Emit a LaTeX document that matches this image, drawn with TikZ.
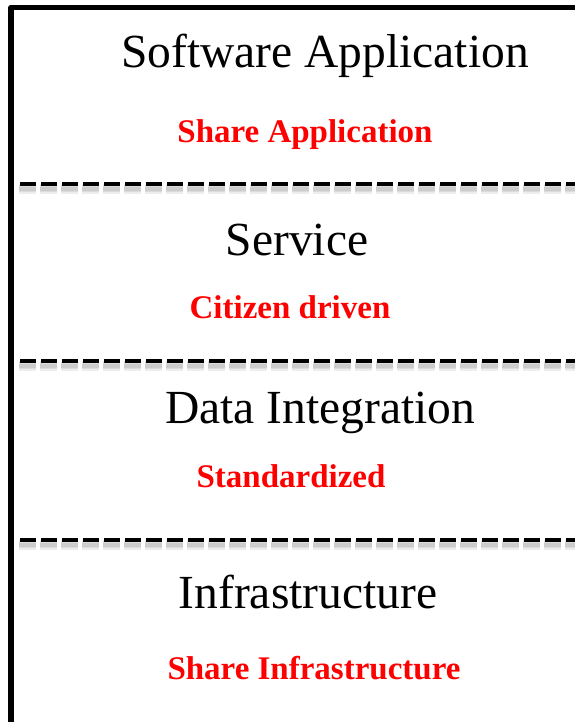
\documentclass[tikz,border=0pt]{standalone}
\usepackage{fontspec}
\setmainfont{Liberation Serif}
\begin{document}
\begin{tikzpicture}[x=1pt,y=-1pt,
  layer/.style={anchor=base,inner sep=0pt,text=black,font=\fontsize{47.5}{50}\selectfont},
  note/.style={anchor=base,inner sep=0pt,text=red,font=\fontsize{33}{36}\selectfont\bfseries},
  divider/.style={line width=4.5pt,dash pattern=on 15.5pt off 5.5pt},
  dividershadow/.style={line width=7pt,dash pattern=on 17pt off 4pt,draw=black,opacity=0.07},
  frame/.style={line width=5.5pt,line join=round}]
\useasboundingbox (0,0) rectangle (574,722);
% frame
\draw[frame] (11,730) -- (11,7.5) -- (580,7.5);
% dividers with soft shadow
\foreach \yy in {184,361,540}{
  \foreach \dd in {3,4.5,6}{
    \draw[dividershadow] (19,\yy+\dd) -- (580,\yy+\dd);
  }
  \draw[divider] (20,\yy) -- (580,\yy);
}
% texts
\node[layer] (l1) at (325,68) {Software Application};
\node[note]  (n1) at (305,143) {Share Application};
\node[layer] (l2) at (297,255) {Service};
\node[note]  (n2) at (290,318) {Citizen driven};
\node[layer] (l3) at (320,423) {Data Integration};
\node[note]  (n3) at (291,487) {Standardized};
\node[layer] (l4) at (308,608) {Infrastructure};
\node[note]  (n4) at (314,679) {Share Infrastructure};
\end{tikzpicture}
\end{document}
